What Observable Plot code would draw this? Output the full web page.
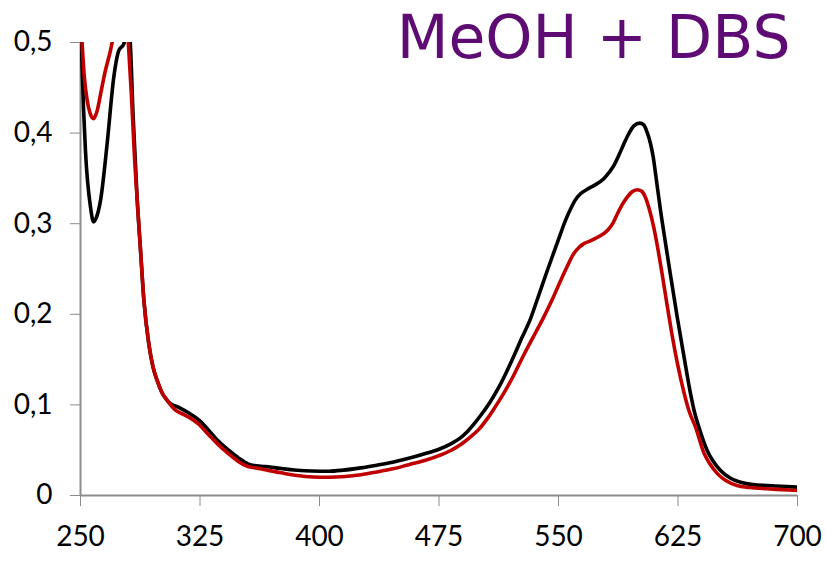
<!DOCTYPE html>
<html>
<head>
<meta charset="utf-8">
<script src="https://cdn.jsdelivr.net/npm/d3@7"></script>
<script src="https://cdn.jsdelivr.net/npm/@observablehq/plot@0.6"></script>
<style>
  html, body { margin: 0; padding: 0; background: #fff; }
  #chart { width: 827px; height: 563px; }
</style>
</head>
<body>
<div id="chart"></div>
<script>
const titleText = "MeOH + DBS";
const xTicks = [250, 325, 400, 475, 550, 625, 700];
const yTicks = [0, 0.1, 0.2, 0.3, 0.4, 0.5];

// Black spectrum
const blackNm = [250, 251, 253.1, 256.3, 258.2, 260, 262.6, 266.7, 270.9, 274, 277.2, 279, 281, 283, 285.6, 287.7, 289.8, 292.9, 295.5, 298.1, 301, 304.4, 306.5, 312, 318, 324.6, 330, 336, 343, 349.5, 355, 359, 366, 372.7, 386, 395, 406, 415, 425.8, 436, 445.9, 456, 466, 475, 482.4, 488, 493, 497, 501, 507, 512.4, 517, 522, 527, 532.4, 537, 542.7, 547, 551.3, 554, 557.5, 560.5, 563.8, 568, 572.2, 578.4, 581.5, 584.7, 588, 591, 594, 597.3, 601, 603.5, 605.6, 607.8, 609.5, 611, 614, 617.2, 620.3, 624.5, 628.6, 632.8, 635.5, 638, 643.3, 647, 651.7, 658, 664.3, 672, 681, 690, 700];
const blackAbs = [0.54, 0.473, 0.381, 0.318, 0.302, 0.307, 0.326, 0.388, 0.462, 0.491, 0.4985, 0.52, 0.505, 0.42, 0.326, 0.27, 0.215, 0.167, 0.142, 0.127, 0.114, 0.105, 0.1015, 0.097, 0.091, 0.083, 0.073, 0.061, 0.05, 0.041, 0.035, 0.033, 0.032, 0.0305, 0.0278, 0.027, 0.0268, 0.028, 0.0305, 0.0335, 0.0368, 0.041, 0.046, 0.051, 0.057, 0.063, 0.071, 0.079, 0.088, 0.103, 0.119, 0.135, 0.154, 0.174, 0.195, 0.218, 0.247, 0.268, 0.289, 0.302, 0.316, 0.326, 0.333, 0.338, 0.342, 0.3495, 0.356, 0.364, 0.376, 0.388, 0.399, 0.408, 0.411, 0.409, 0.401, 0.388, 0.373, 0.354, 0.315, 0.278, 0.243, 0.197, 0.155, 0.113, 0.091, 0.076, 0.0497, 0.038, 0.0276, 0.019, 0.0147, 0.012, 0.011, 0.0102, 0.0092];

// Red spectrum
const redNm = [250, 251, 252.5, 254.2, 256, 258.2, 260.5, 262.6, 265.5, 268.8, 271, 275, 279, 280, 282, 284, 285.6, 287.7, 289.8, 292.9, 295.5, 298.1, 301, 304.4, 309.8, 313, 318, 324, 330, 336, 343, 349.5, 355, 360, 366, 376, 386, 396, 406, 416, 426, 436, 446, 456, 466, 475, 482.4, 490, 495, 500, 505, 510, 515.7, 522, 527, 532, 536, 540.5, 546, 551.3, 555.5, 559.6, 563, 566, 570, 574.5, 580.7, 584, 587, 590, 593, 596, 599.4, 602, 604.6, 607, 609.8, 612.5, 615, 618, 621, 624.5, 628.7, 632, 636, 641.5, 645, 650, 655, 662, 670, 681, 690, 700];
const redAbs = [0.53, 0.499, 0.46, 0.436, 0.422, 0.416, 0.425, 0.443, 0.468, 0.491, 0.51, 0.54, 0.53, 0.5, 0.44, 0.37, 0.326, 0.27, 0.215, 0.167, 0.142, 0.127, 0.114, 0.105, 0.094, 0.091, 0.0865, 0.079, 0.068, 0.057, 0.046, 0.037, 0.032, 0.0305, 0.0284, 0.025, 0.022, 0.0205, 0.0202, 0.021, 0.023, 0.026, 0.0294, 0.034, 0.0386, 0.044, 0.0497, 0.058, 0.065, 0.073, 0.084, 0.097, 0.113, 0.133, 0.151, 0.168, 0.181, 0.196, 0.216, 0.237, 0.253, 0.267, 0.274, 0.278, 0.281, 0.285, 0.2925, 0.3, 0.311, 0.321, 0.329, 0.335, 0.3375, 0.336, 0.329, 0.316, 0.296, 0.271, 0.245, 0.212, 0.18, 0.147, 0.114, 0.093, 0.0754, 0.046, 0.035, 0.0236, 0.0165, 0.011, 0.0088, 0.0074, 0.0065, 0.0055];

const black = blackNm.map((x, i) => ({x, y: blackAbs[i]}));
const red = redNm.map((x, i) => ({x, y: redAbs[i]}));

const axisGray = "#8c8c8c";
const fmtY = d => d === 0 ? "0" : d3.format(".1f")(d).replace(".", ",");

const chart = Plot.plot({
  width: 827,
  height: 563,
  marginLeft: 80,
  marginRight: 30,
  marginTop: 42,
  marginBottom: 68,
  style: {fontFamily: "Lato, 'Open Sans', sans-serif", fontSize: "28px", color: "#000", background: "#fff"},
  x: {domain: [250, 700]},
  y: {domain: [0, 0.5]},
  marks: [
    Plot.axisX({ticks: xTicks, tickFormat: d => String(d), tickSize: 11, tickPadding: 20, stroke: axisGray, fill: "#000", label: null}),
    Plot.axisY({ticks: yTicks, tickFormat: fmtY, tickSize: 10, tickPadding: 18, stroke: axisGray, fill: "#000", label: null}),
    Plot.ruleX([250], {stroke: axisGray, strokeWidth: 2}),
    Plot.ruleY([0], {stroke: axisGray, strokeWidth: 2}),
    Plot.line(black, {x: "x", y: "y", stroke: "#000000", strokeWidth: 3.6, clip: true, curve: "monotone-x"}),
    Plot.line(red, {x: "x", y: "y", stroke: "#c00000", strokeWidth: 3.6, clip: true, curve: "monotone-x"}),
    Plot.text([titleText], {text: d => d, frameAnchor: "top-right", textAnchor: "end", lineAnchor: "bottom", dx: -7, dy: 15, fontSize: 60, fill: "#5e0c73", fontFamily: "'DejaVu Sans', sans-serif"})
  ]
});
document.getElementById("chart").appendChild(chart);
</script>
</body>
</html>
